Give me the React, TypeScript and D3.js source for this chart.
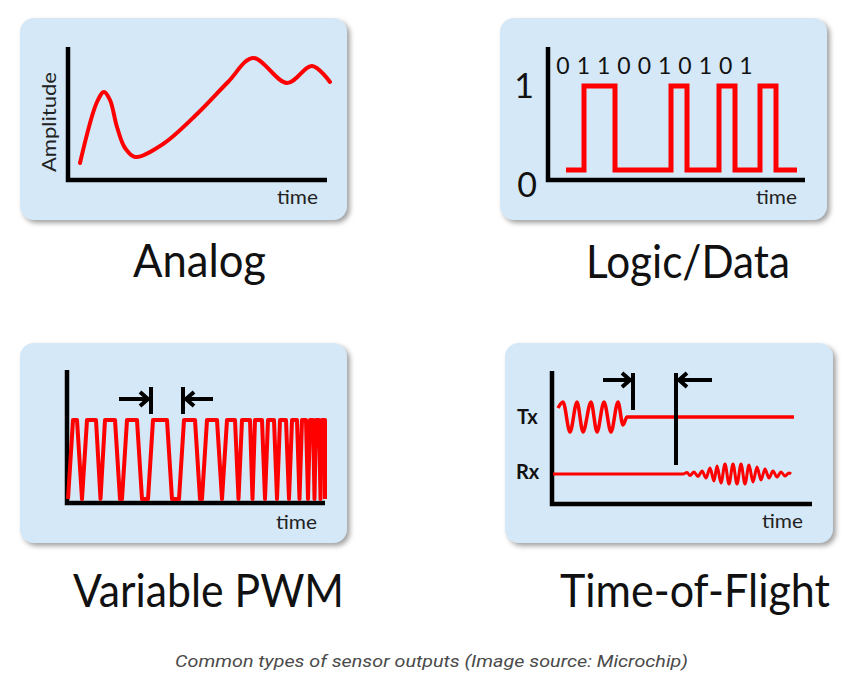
import React, { useRef, useEffect } from 'react';
import * as d3 from 'd3';

// Analog panel: time vs amplitude (px-like units from the axis origin)
const analogTime = [12, 29, 36, 42, 49, 57, 67, 95, 130, 160, 185, 219, 244, 262];
const analogAmp = [17, 78, 88, 80, 53, 32, 23, 36, 67, 98, 122, 97, 114, 98];

// Logic/Data panel: edge times and logic levels
const logicTimes = [18, 36, 67, 123, 139, 171, 187, 212, 228, 249];
const logicLevels = [0, 1, 0, 1, 0, 1, 0, 1, 0, 0];
const logicBits = ['0', '1', '1', '0', '0', '1', '0', '1', '0', '1'];

// Variable PWM panel: [start, end] of each high plateau
const pwmTops: [number, number][] = [
  [6, 10], [20, 29], [38, 48], [60, 70], [86, 100], [117, 128], [140, 150],
  [160, 168], [175, 183], [188, 195], [201, 207], [213, 219], [225, 230],
  [235, 239], [243, 246], [249, 252], [255, 258],
];

// Time-of-flight panel: burst extremes (time, deflection)
const txTime = [6, 11, 18, 25, 31, 39, 45, 52, 59, 66, 71, 75, 242];
const txAmp = [9, 15, -15, 15, -15, 15, -15, 15, -15, 15, -8, 0, 0];
const rxTime = [1, 131, 135, 138, 142, 146, 150, 154, 158, 162, 165, 169, 173, 177, 181, 185,
  189, 193, 197, 201, 205, 209, 213, 217, 221, 225, 229, 233, 237, 239];
const rxAmp = [0, 0, 1.5, -1.5, 2, -2.5, 3, -4, 6, -7, 8, -9, 10, -10, 10, -10,
  10, -10, 9, -8, 7, -6, 5, -4, 3, -3, 2, -2, 1, 0];

const titles = ['Analog', 'Logic/Data', 'Variable PWM', 'Time-of-Flight'];
const caption = 'Common types of sensor outputs (Image source: Microchip)';

const RED = '#ff0000';
const BOX = '#d4e8f7';
const FONT = 'Lato, "Open Sans", sans-serif';

export default function App() {
  const svgRef = useRef<SVGSVGElement | null>(null);

  useEffect(() => {
    if (!svgRef.current) return;
    const svg = d3.select(svgRef.current);
    svg.selectAll('*').remove();

    const defs = svg.append('defs');
    const f = defs.append('filter').attr('id', 'shadow')
      .attr('x', '-10%').attr('y', '-10%').attr('width', '125%').attr('height', '125%');
    f.append('feDropShadow')
      .attr('dx', 3).attr('dy', 3).attr('stdDeviation', 2.5)
      .attr('flood-color', '#7a7a7a').attr('flood-opacity', 0.7);

    const boxes = [
      { x: 20, y: 18, w: 327, h: 202 },
      { x: 500, y: 18, w: 327, h: 202 },
      { x: 20, y: 343, w: 327, h: 200 },
      { x: 505, y: 343, w: 328, h: 200 },
    ];
    boxes.forEach(b => {
      svg.append('rect')
        .attr('x', b.x).attr('y', b.y).attr('width', b.w).attr('height', b.h)
        .attr('rx', 14).attr('fill', BOX).attr('filter', 'url(#shadow)');
    });

    function axes(ox: number, oy: number, top: number, right: number) {
      svg.append('path')
        .attr('d', `M${ox},${top} L${ox},${oy} L${right},${oy}`)
        .attr('fill', 'none').attr('stroke', '#000').attr('stroke-width', 4.5)
        .attr('stroke-linejoin', 'miter');
    }

    function timeLabel(x: number, y: number) {
      svg.append('text')
        .attr('x', x).attr('y', y)
        .attr('font-family', FONT).attr('font-size', 19).attr('fill', '#222')
        .attr('textLength', 41).attr('lengthAdjust', 'spacingAndGlyphs')
        .text('time');
    }

    function arrow(x1: number, x2: number, y: number) {
      const dir = x2 > x1 ? 1 : -1;
      svg.append('line')
        .attr('x1', x1).attr('y1', y).attr('x2', x2 - dir * 1).attr('y2', y)
        .attr('stroke', '#000').attr('stroke-width', 4);
      svg.append('polyline')
        .attr('points', `${x2 - dir * 8},${y - 7} ${x2},${y} ${x2 - dir * 8},${y + 7}`)
        .attr('fill', 'none').attr('stroke', '#000').attr('stroke-width', 4)
        .attr('stroke-linejoin', 'miter');
    }

    function bar(x: number, y1: number, y2: number) {
      svg.append('line')
        .attr('x1', x).attr('y1', y1).attr('x2', x).attr('y2', y2)
        .attr('stroke', '#000').attr('stroke-width', 4);
    }

    // ---- Analog
    {
      const ox = 68, oy = 180;
      const x = d3.scaleLinear().domain([0, 259]).range([ox, ox + 259]);
      const y = d3.scaleLinear().domain([0, 133]).range([oy, oy - 133]);
      axes(ox, oy, 47, 327);
      const line = d3.line<number>()
        .x((_, i) => x(analogTime[i]))
        .y(d => y(d))
        .curve(d3.curveCatmullRom.alpha(0.5));
      svg.append('path')
        .attr('d', line(analogAmp))
        .attr('fill', 'none').attr('stroke', RED).attr('stroke-width', 4)
        .attr('stroke-linecap', 'round');
      svg.append('text')
        .attr('transform', 'translate(56,122) rotate(-90)')
        .attr('text-anchor', 'middle')
        .attr('font-family', FONT).attr('font-size', 20).attr('fill', '#222')
        .attr('textLength', 100).attr('lengthAdjust', 'spacingAndGlyphs')
        .text('Amplitude');
      timeLabel(277, 204);
    }

    // ---- Logic/Data
    {
      const ox = 548, oy = 180;
      const x = d3.scaleLinear().domain([0, 257]).range([ox, ox + 257]);
      const y = d3.scaleLinear().domain([0, 1]).range([170, 86]);
      axes(ox, oy, 47, 805);
      const line = d3.line<number>()
        .x((_, i) => x(logicTimes[i]))
        .y(d => y(d))
        .curve(d3.curveStepAfter);
      svg.append('path')
        .attr('d', line(logicLevels))
        .attr('fill', 'none').attr('stroke', RED).attr('stroke-width', 5)
        .attr('stroke-linejoin', 'miter');
      const bx = d3.scalePoint<number>().domain(d3.range(logicBits.length)).range([563, 746]);
      logicBits.forEach((b, i) => {
        svg.append('text')
          .attr('x', bx(i)!).attr('y', 74).attr('text-anchor', 'middle')
          .attr('font-family', FONT).attr('font-size', 23).attr('fill', '#111')
          .text(b);
      });
      svg.append('text').attr('x', 524).attr('y', y(1) + 12).attr('text-anchor', 'middle')
        .attr('font-family', FONT).attr('font-size', 34).attr('fill', '#111').text('1');
      svg.append('text').attr('x', 527).attr('y', 197).attr('text-anchor', 'middle')
        .attr('font-family', FONT).attr('font-size', 34).attr('fill', '#111').text('0');
      timeLabel(756, 204);
    }

    // ---- Variable PWM
    {
      const ox = 67, oy = 503;
      const x = d3.scaleLinear().domain([0, 258]).range([ox, ox + 258]);
      const y = d3.scaleLinear().domain([0, 1]).range([499, 420]);
      axes(ox, oy, 370, 325);
      const edge = 5;
      const pts: [number, number][] = [];
      pwmTops.forEach(([s, e], i) => {
        if (i === 0) pts.push([s - edge, 0]);
        else {
          const pe = pwmTops[i - 1][1];
          if (s - pe > 2 * edge) { pts.push([pe + edge, 0]); pts.push([s - edge, 0]); }
          else pts.push([(pe + s) / 2, 0]);
        }
        pts.push([s, 1]); pts.push([e, 1]);
        if (i === pwmTops.length - 1) pts.push([e, 0]);
      });
      const line = d3.line<[number, number]>().x(d => x(d[0])).y(d => y(d[1]));
      svg.append('path')
        .attr('d', line(pts))
        .attr('fill', 'none').attr('stroke', RED).attr('stroke-width', 4)
        .attr('stroke-linejoin', 'round');
      const b1 = x(pwmTops[4][0]) - 2;
      const b2 = x(pwmTops[5][0]) - 1;
      bar(b1, 387, 414);
      bar(b2, 387, 414);
      arrow(119, b1 - 3, 399);
      arrow(213, b2 + 3, 399);
      timeLabel(276, 529);
    }

    // ---- Time-of-Flight
    {
      const ox = 552, oy = 504;
      const x = d3.scaleLinear().domain([0, 260]).range([ox, ox + 260]);
      const yTx = d3.scaleLinear().domain([-20, 20]).range([437, 397]);
      const yRx = d3.scaleLinear().domain([-20, 20]).range([494, 454]);
      axes(ox, oy, 371, 812);
      const tx = d3.line<number>().x((_, i) => x(txTime[i])).y(d => yTx(d)).curve(d3.curveMonotoneX);
      svg.append('path').attr('d', tx(txAmp))
        .attr('fill', 'none').attr('stroke', RED).attr('stroke-width', 3.5);
      const rx = d3.line<number>().x((_, i) => x(rxTime[i])).y(d => yRx(d)).curve(d3.curveMonotoneX);
      svg.append('path').attr('d', rx(rxAmp))
        .attr('fill', 'none').attr('stroke', RED).attr('stroke-width', 3);
      bar(x(81), 373, 410);
      bar(x(124), 373, 465);
      arrow(x(51), x(81) - 3, 380);
      arrow(x(160), x(124) + 3, 380);
      svg.append('text').attr('x', 517).attr('y', 424)
        .attr('font-family', FONT).attr('font-size', 20).attr('font-weight', 'bold').attr('fill', '#111')
        .text('Tx');
      svg.append('text').attr('x', 516).attr('y', 479)
        .attr('font-family', FONT).attr('font-size', 20).attr('font-weight', 'bold').attr('fill', '#111')
        .text('Rx');
      timeLabel(762, 528);
    }

    // ---- Titles
    const titlePos = [
      { x: 133, y: 277, w: 133 },
      { x: 586, y: 278, w: 204 },
      { x: 73, y: 607, w: 271 },
      { x: 560, y: 607, w: 270 },
    ];
    titles.forEach((t, i) => {
      svg.append('text')
        .attr('x', titlePos[i].x).attr('y', titlePos[i].y)
        .attr('font-family', FONT).attr('font-size', 46).attr('fill', '#111')
        .attr('textLength', titlePos[i].w).attr('lengthAdjust', 'spacingAndGlyphs')
        .text(t);
    });

    svg.append('text')
      .attr('x', 175).attr('y', 667)
      .attr('font-family', 'Roboto, sans-serif').attr('font-style', 'italic')
      .attr('font-size', 17).attr('fill', '#4a4a4a')
      .attr('textLength', 513).attr('lengthAdjust', 'spacingAndGlyphs')
      .text(caption);
  }, []);

  return (
    <svg
      ref={svgRef}
      width={854}
      height={675}
      style={{ position: 'absolute', left: 0, top: 0, background: '#fff' }}
    />
  );
}
